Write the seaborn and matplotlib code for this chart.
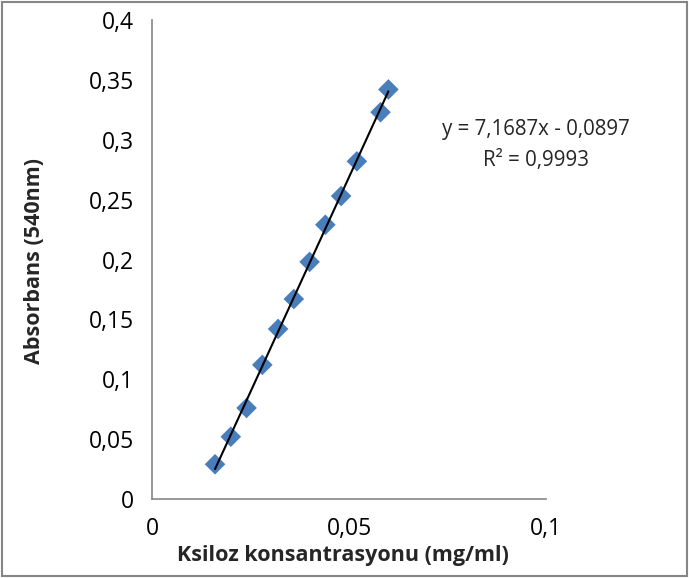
import matplotlib
matplotlib.use("Agg")
import matplotlib.pyplot as plt
import seaborn as sns
import numpy as np
import pandas as pd
from matplotlib.ticker import FuncFormatter, MultipleLocator

concentration = [0.016, 0.020, 0.024, 0.028, 0.032, 0.036, 0.040, 0.044, 0.048, 0.052, 0.058, 0.060]
absorbance = [0.029, 0.052, 0.076, 0.112, 0.142, 0.167, 0.198, 0.229, 0.253, 0.282, 0.323, 0.342]
slope = 7.1687
intercept = -0.0897
equation_text = "y = 7,1687x - 0,0897"
r2_text = "R² = 0,9993"
x_label = "Ksiloz konsantrasyonu (mg/ml)"
y_label = "Absorbans (540nm)"

sns.set_theme(style="white")
plt.rcParams['font.family'] = ['Open Sans', 'DejaVu Sans']

df = pd.DataFrame({"x": concentration, "y": absorbance})

fig = plt.figure(figsize=(6.89, 5.78), dpi=100)
ax = fig.add_axes([152/689, 1 - 499/578, (546 - 152)/689, (499 - 20)/578])

xs = np.array([min(concentration), max(concentration)])
ax.plot(xs, slope * xs + intercept, color="black", lw=1.5, zorder=3)
sns.scatterplot(data=df, x="x", y="y", marker="D", s=110, color="#4a7ebb",
                edgecolor="none", ax=ax, zorder=2)

ax.set_xlim(0, 0.1)
ax.set_ylim(0, 0.4)
ax.xaxis.set_major_locator(MultipleLocator(0.05))
ax.yaxis.set_major_locator(MultipleLocator(0.05))
fmt = FuncFormatter(lambda v, p: ("%g" % round(v, 3)).replace(".", ","))
ax.xaxis.set_major_formatter(fmt)
ax.yaxis.set_major_formatter(fmt)

for s in ["top", "right"]:
    ax.spines[s].set_visible(False)
for s in ["left", "bottom"]:
    ax.spines[s].set_color("#868686")
    ax.spines[s].set_linewidth(1.2)
ax.tick_params(axis="both", direction="out", length=7, width=1.2, color="#868686",
               labelsize=16.5, labelcolor="black")
ax.tick_params(axis="x", pad=6)
ax.tick_params(axis="y", pad=6)
ax.set_xlabel("")
ax.set_ylabel("")

fig.text(343/689, 1 - 556/578, x_label, ha="center", va="center",
         fontsize=15.5, fontweight="bold")
fig.text(35/689, 1 - 261/578, y_label, ha="center", va="center",
         rotation=90, fontsize=15.5, fontweight="bold")

fig.text(536/689, 1 - 130/578, equation_text, ha="center", va="center", fontsize=14.8)
fig.text(536/689, 1 - 161/578, r2_text, ha="center", va="center", fontsize=14.8)

border = plt.Rectangle((0.003, 0.004), 0.994, 0.992, transform=fig.transFigure,
                       fill=False, edgecolor="#868686", lw=1.5)
fig.patches.append(border)

fig.savefig("out.png", dpi=100)
